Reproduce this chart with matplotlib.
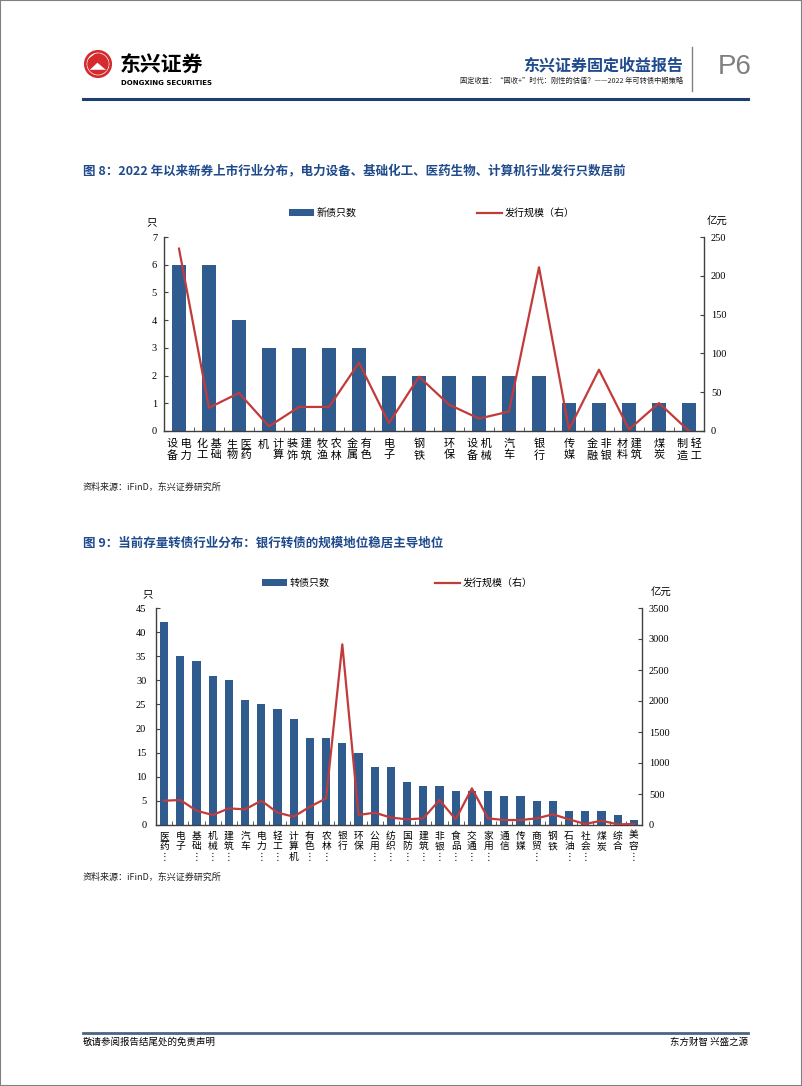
import matplotlib.pyplot as plt
from matplotlib.patches import Circle, Rectangle
from matplotlib.lines import Line2D
import numpy as np

cjk = ['Noto Sans CJK SC', 'DejaVu Sans']
plt.rcParams['font.family'] = cjk
num_font = 'Liberation Serif'

bar_color = '#2f5b8f'
line_color = '#c23b3b'
title_blue = '#1f4b8c'
axis_color = '#404040'

# ---- fig 8 data: new issues by industry since 2022
labels8 = ["设 电\n备 力", "化 基\n工 础", "生 医\n物 药", "计\n算", "装 建\n饰 筑",
           "牧 农\n渔 林", "金 有\n属 色", "电\n子", "钢\n铁", "环\n保", "设 机\n备 械",
           "汽\n车", "银\n行", "传\n媒", "金 非\n融 银", "材 建\n料 筑", "煤\n炭", "制 轻\n造 工"]
count8 = [6, 6, 4, 3, 3, 3, 3, 2, 2, 2, 2, 2, 2, 1, 1, 1, 1, 1]
scale8 = [235, 30, 49, 6, 31, 31, 88, 10, 70, 34, 16, 25, 211, 2, 79, 2, 36, 0]

# ---- fig 9 data: outstanding convertibles by industry
labels9 = ["医药⋮", "电子", "基础⋮", "机械⋮", "建筑⋮", "汽车", "电力⋮", "轻工⋮", "计算机",
           "有色⋮", "农林⋮", "银行", "环保", "公用⋮", "纺织⋮", "国防⋮", "建筑⋮", "非银⋮",
           "食品⋮", "交通⋮", "家用⋮", "通信", "传媒", "商贸⋮", "钢铁", "石油⋮", "社会⋮",
           "煤炭", "综合", "美容⋮"]
count9 = [42, 35, 34, 31, 30, 26, 25, 24, 22, 18, 18, 17, 15, 12, 12, 9, 8, 8, 7, 7, 7,
          6, 6, 5, 5, 3, 3, 3, 2, 1]
scale9 = [392, 403, 231, 161, 268, 252, 392, 199, 134, 295, 429, 2914, 161, 199, 120, 91,
          107, 403, 91, 591, 107, 80, 80, 107, 172, 91, 16, 70, 10, 16]

W, H = 802, 1086
fig = plt.figure(figsize=(W / 100, H / 100), dpi=100)


def fx(x):
    return x / W


def fy(y):
    return 1 - y / H


def add_axes_px(left, top, right, bottom):
    return fig.add_axes([fx(left), fy(bottom), (right - left) / W, (bottom - top) / H])


# page frame
fig.patches.append(Rectangle((0, 0), 1, 1, transform=fig.transFigure, fill=False,
                             edgecolor='#808080', lw=1.5))

# ---- header
logo = add_axes_px(84, 50, 112, 78)
logo.set_aspect('equal')
logo.set_xlim(-1.05, 1.05)
logo.set_ylim(-1.05, 1.05)
logo.axis('off')
logo.add_patch(Circle((0, 0), 1, color='#d52a2e'))
logo.add_patch(Circle((0, 0), 0.8, color='white'))
inner = Circle((0, 0), 0.8, color='none')
logo.add_patch(inner)
for k in range(4):
    off = k * 0.22
    l, = logo.plot([-0.9, -0.05 + off * 0.3, 0.9], [-0.55 + off, 0.25 + off, -0.55 + off],
                   color='#d52a2e', lw=2.2)
    l.set_clip_path(inner)
logo.add_patch(Rectangle((-0.8, -0.8), 1.6, 0.35, color='#d52a2e', clip_path=inner))

fig.text(fx(120), fy(64), '东兴证券', fontsize=15, fontweight='bold', ha='left', va='center')
fig.text(fx(121), fy(83), 'DONGXING SECURITIES', fontsize=5, fontweight='bold',
         ha='left', va='center', family='DejaVu Sans')
fig.text(fx(683), fy(65), '东兴证券固定收益报告', fontsize=11.5, fontweight='bold',
         color=title_blue, ha='right', va='center')
fig.text(fx(683), fy(81), '固定收益：“固收+”时代：刚性的估值？——2022 年可转债中期策略',
         fontsize=5.2, ha='right', va='center', color='#222222')
fig.add_artist(Line2D([fx(692), fx(692)], [fy(47), fy(91)], color='#808080', lw=1))
fig.text(fx(735), fy(67), 'P6', fontsize=20, color='#7f7f7f', ha='center', va='center',
         family='Liberation Sans')
fig.add_artist(Line2D([fx(83), fx(748)], [fy(99), fy(99)], color='#1f3f6e', lw=2.2))

# ---- footer
fig.add_artist(Line2D([fx(83), fx(748)], [fy(1033), fy(1033)], color='#4a6585', lw=2))
fig.text(fx(83), fy(1042), '敬请参阅报告结尾处的免责声明', fontsize=6.8, ha='left', va='center')
fig.text(fx(748), fy(1042), '东方财智 兴盛之源', fontsize=6.8, ha='right', va='center')


def style_axes(ax, axr, n, left_pad):
    ax.set_xlim(-0.5, n - 0.5)
    for a in (ax, axr):
        a.spines['top'].set_visible(False)
        for s in a.spines.values():
            s.set_color(axis_color)
            s.set_linewidth(1)
    ax.spines['right'].set_visible(False)
    axr.spines['left'].set_visible(False)
    axr.spines['bottom'].set_visible(False)
    ax.tick_params(axis='y', direction='in', length=3, pad=left_pad, labelsize=7.5,
                   labelfontfamily=num_font, color=axis_color)
    axr.tick_params(axis='y', direction='in', length=3, pad=5, labelsize=7.5,
                    labelfontfamily=num_font, color=axis_color)
    ax.set_xticks(np.arange(n))
    ax.set_xticklabels([])
    ax.tick_params(axis='x', which='major', length=0)
    ax.set_xticks(np.arange(-0.5, n, 1), minor=True)
    ax.tick_params(axis='x', which='minor', direction='in', length=3, color=axis_color)


# ---- figure 8
fig.text(fx(83), fy(171), '图 8：2022 年以来新券上市行业分布，电力设备、基础化工、医药生物、计算机行业发行只数居前',
         fontsize=9, fontweight='bold', color=title_blue, ha='left', va='center')

ax1 = add_axes_px(164, 237, 704, 431)
x8 = np.arange(len(count8))
bars1 = ax1.bar(x8, count8, width=0.47, color=bar_color, label='新债只数', zorder=2)
ax1.set_ylim(0, 7)
ax1.set_yticks(range(0, 8))
ax1r = ax1.twinx()
ln1, = ax1r.plot(x8, scale8, color=line_color, lw=1.6, label='发行规模（右）')
ax1r.set_ylim(0, 250)
ax1r.set_yticks(range(0, 251, 50))
style_axes(ax1, ax1r, len(count8), 5)

tr1 = ax1.get_xaxis_transform()
for i, lab in enumerate(labels8):
    xi = i + 0.3 if i == 3 else i
    ax1.text(xi, -0.04, lab, transform=tr1, ha='center', va='top', fontsize=8, linespacing=1.1)
ax1.text(3 - 0.2, -0.04 - 0.034, '机', transform=tr1, ha='center', va='center', fontsize=8)

ax1r.legend(handles=[bars1, ln1], loc='center left', bbox_to_anchor=(fx(289), fy(213)),
            bbox_transform=fig.transFigure, ncol=2, frameon=False, prop={'size': 7.2},
            handlelength=2.5, handletextpad=0.3, columnspacing=12, borderpad=0, borderaxespad=0)
fig.text(fx(152), fy(222), '只', fontsize=7.5, ha='center', va='center')
fig.text(fx(717), fy(222), '亿元', fontsize=7.5, ha='center', va='center')
fig.text(fx(83), fy(487), '资料来源：iFinD，东兴证券研究所', fontsize=6.5, style='italic',
         ha='left', va='center', color='#222222')

# ---- figure 9
fig.text(fx(83), fy(543), '图 9：当前存量转债行业分布：银行转债的规模地位稳居主导地位',
         fontsize=9, fontweight='bold', color=title_blue, ha='left', va='center')

ax2 = add_axes_px(156, 608, 642, 825)
x9 = np.arange(len(count9))
bars2 = ax2.bar(x9, count9, width=0.5, color=bar_color, label='转债只数', zorder=2)
ax2.set_ylim(0, 45)
ax2.set_yticks(range(0, 46, 5))
ax2r = ax2.twinx()
ln2, = ax2r.plot(x9, scale9, color=line_color, lw=1.6, label='发行规模（右）')
ax2r.set_ylim(0, 3500)
ax2r.set_yticks(range(0, 3501, 500))
style_axes(ax2, ax2r, len(count9), 7)

tr2 = ax2.get_xaxis_transform()
for i, lab in enumerate(labels9):
    ax2.text(i, -0.027, '\n'.join(lab), transform=tr2, ha='center', va='top', fontsize=7,
             linespacing=1.05)

ax2r.legend(handles=[bars2, ln2], loc='center left', bbox_to_anchor=(fx(262), fy(583)),
            bbox_transform=fig.transFigure, ncol=2, frameon=False, prop={'size': 7.2},
            handlelength=2.5, handletextpad=0.3, columnspacing=10.5, borderpad=0, borderaxespad=0)
fig.text(fx(148), fy(594), '只', fontsize=7.5, ha='center', va='center')
fig.text(fx(661), fy(593), '亿元', fontsize=7.5, ha='center', va='center')
fig.text(fx(83), fy(877), '资料来源：iFinD，东兴证券研究所', fontsize=6.5, style='italic',
         ha='left', va='center', color='#222222')

fig.savefig('out.png', dpi=100)
